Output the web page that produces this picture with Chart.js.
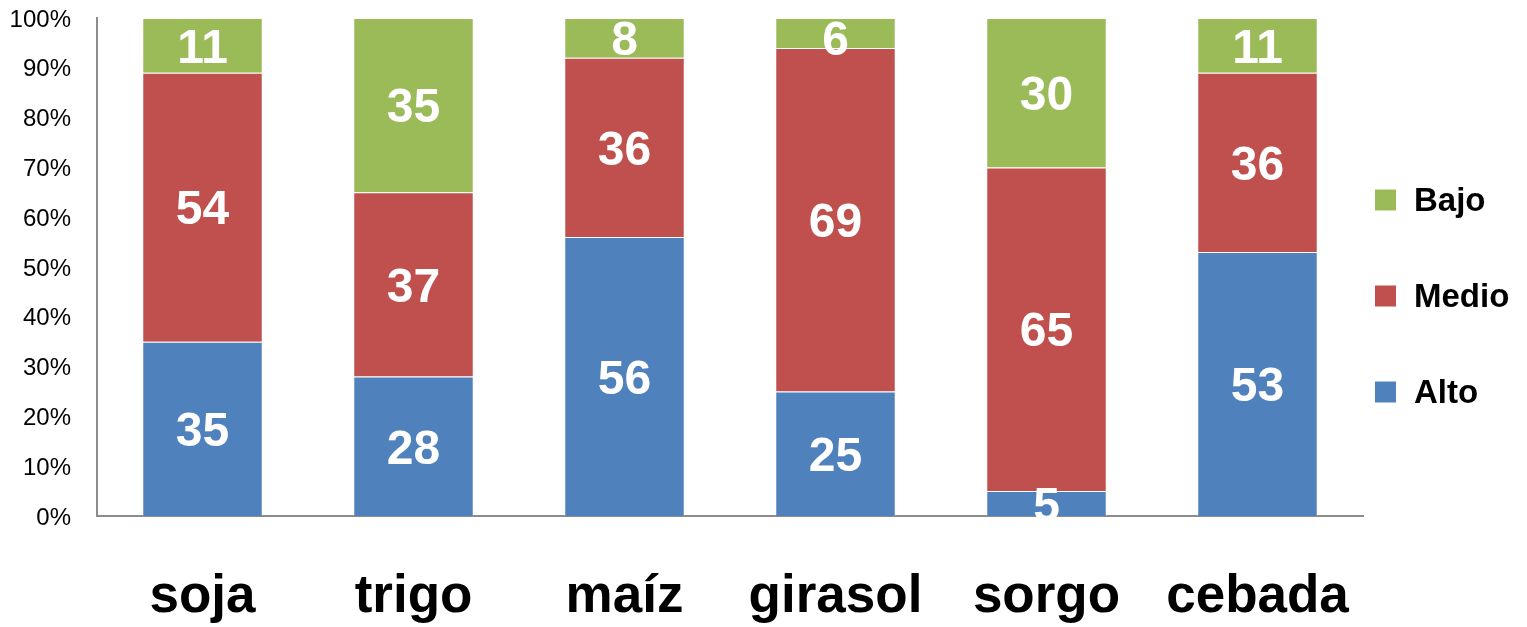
<!DOCTYPE html>
<html lang="es">
<head>
<meta charset="UTF-8">
<title>Nivel por cultivo</title>
<style>
  html, body { margin: 0; padding: 0; background: #fff; }
  #wrap { width: 1527px; height: 627px; }
</style>
</head>
<body>
<div id="wrap"><canvas id="chart"></canvas></div>
<script src="https://cdn.jsdelivr.net/npm/chart.js"></script>
<script>
const cultivos = ['soja', 'trigo', 'maíz', 'girasol', 'sorgo', 'cebada'];
const alto = [35, 28, 56, 25, 5, 53];
const medio = [54, 37, 36, 69, 65, 36];
const bajo = [11, 35, 8, 6, 30, 11];

const FONT = '"Liberation Sans", Arial, sans-serif';

// white numbers centred in every segment, kept inside the top of the plot
const segmentLabels = {
    id: 'segmentLabels',
    afterDraw(chart) {
        const ctx = chart.ctx;
        const area = chart.chartArea;
        ctx.save();
        ctx.font = 'bold 48px ' + FONT;
        ctx.fillStyle = '#fff';
        ctx.textAlign = 'center';
        ctx.textBaseline = 'middle';
        chart.data.datasets.forEach((ds, i) => {
            chart.getDatasetMeta(i).data.forEach((bar, j) => {
                const p = bar.getProps(['x', 'y', 'base'], true);
                let y = (p.y + p.base) / 2;
                y = Math.max(y, area.top + 20);
                ctx.fillText(ds.data[j], p.x, y + 4);
            });
        });
        ctx.restore();
    }
};

// legend on the right, top item first
const sideLegend = {
    id: 'sideLegend',
    afterDraw(chart) {
        const ctx = chart.ctx;
        const area = chart.chartArea;
        const items = chart.data.datasets.slice().reverse();
        const gap = 96;
        const mid = (area.top + area.bottom) / 2 + 29;
        const x = area.right + 12;
        ctx.save();
        ctx.font = 'bold 33px ' + FONT;
        ctx.textAlign = 'left';
        ctx.textBaseline = 'middle';
        items.forEach((ds, k) => {
            const cy = mid + (k - (items.length - 1) / 2) * gap;
            ctx.fillStyle = ds.backgroundColor;
            ctx.fillRect(x, cy - 10.5, 21, 21);
            ctx.fillStyle = '#000';
            ctx.fillText(ds.label, x + 39, cy + 2);
        });
        ctx.restore();
    }
};

new Chart(document.getElementById('chart'), {
    type: 'bar',
    data: {
        labels: cultivos,
        datasets: [
            { label: 'Alto', data: alto, backgroundColor: '#4F81BD' },
            { label: 'Medio', data: medio, backgroundColor: '#C0504D' },
            { label: 'Bajo', data: bajo, backgroundColor: '#9BBB59' }
        ]
    },
    options: {
        responsive: true,
        maintainAspectRatio: false,
        animation: false,
        categoryPercentage: 1,
        barPercentage: 0.571,
        borderWidth: 1,
        borderColor: 'rgba(255,255,255,0.3)',
        layout: { padding: { top: 18, right: 164, left: 0, bottom: 0 } },
        scales: {
            x: {
                stacked: true,
                z: 1,
                grid: { display: false, drawTicks: false },
                border: { display: true, color: '#8c8c8c', width: 2 },
                ticks: {
                    color: '#000',
                    padding: 50,
                    font: { family: FONT, size: 53, weight: 'bold' }
                },
                afterFit(scale) {
                    scale.height = 111;
                    scale.paddingLeft = 0;
                    scale.paddingRight = 0;
                }
            },
            y: {
                stacked: true,
                min: 0,
                max: 100,
                grid: { display: false, drawTicks: false },
                border: { display: true, color: '#8c8c8c', width: 2 },
                ticks: {
                    stepSize: 10,
                    padding: 26,
                    labelOffset: 2,
                    color: '#000',
                    font: { family: FONT, size: 24 },
                    callback: v => v + '%'
                },
                afterFit(scale) {
                    scale.width = 97;
                    scale.paddingTop = 0;
                    scale.paddingBottom = 0;
                }
            }
        },
        plugins: {
            legend: { display: false },
            tooltip: { enabled: false }
        }
    },
    plugins: [segmentLabels, sideLegend]
});
</script>
</body>
</html>
